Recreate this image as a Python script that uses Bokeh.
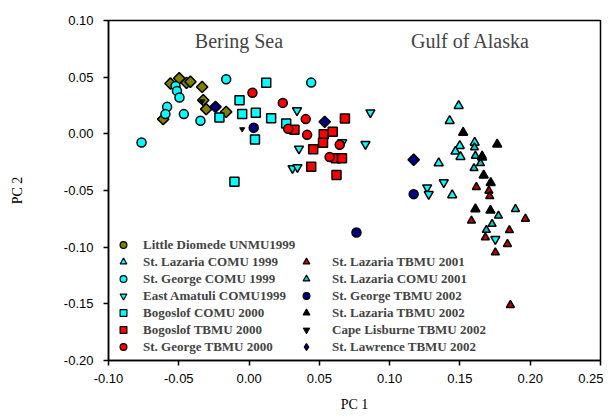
from bokeh.plotting import figure
from bokeh.models import Range1d, FixedTicker, PrintfTickFormatter, Legend, LegendItem, Label
from bokeh.embed import file_html
from bokeh.resources import INLINE

# ---- data (PC1, PC2) ----
ld_unmu99_x = [-0.0611, -0.0559, -0.0497, -0.0445, -0.0417, -0.0334, -0.0326, -0.0305, -0.0163]
ld_unmu99_y = [0.013, 0.0444, 0.049, 0.045, 0.046, 0.0414, 0.0297, 0.0218, 0.0194]

sl_comu99_x = [0.1491, 0.1427, 0.1499, 0.1468, 0.1504, 0.1349, 0.1445, 0.1605]
sl_comu99_y = [0.0247, 0.0115, -0.0106, -0.0156, -0.0203, -0.0258, -0.0541, -0.0077]

sg_comu99_x = [-0.0765, -0.0583, -0.0595, -0.0523, -0.0513, -0.0495, -0.0464, -0.0346, -0.0163, 0.0442]
sg_comu99_y = [-0.0077, 0.0238, 0.0174, 0.0423, 0.0379, 0.032, 0.0174, 0.0115, 0.0482, 0.0452]

ea_comu99_x = [0.0341, 0.0355, 0.0309, 0.0344, 0.0663, 0.0828, 0.0863, 0.1267, 0.1278, 0.1385, 0.1752]
ea_comu99_y = [0.0207, -0.0132, -0.0304, -0.0295, -0.0075, -0.0091, 0.0188, -0.0474, -0.0532, -0.0429, -0.0929]

bo_comu00_x = [-0.0211, -0.0068, -0.0049, 0.0048, 0.0122, 0.0157, 0.0264, 0.0042, -0.0104]
bo_comu00_y = [0.0144, 0.0297, 0.0174, 0.0187, 0.045, 0.0137, 0.0091, -0.0049, -0.0423]

bo_tbmu00_x = [0.0323, 0.0531, 0.0595, 0.0526, 0.0456, 0.0682, 0.0618, 0.0661, 0.0442, 0.0622]
bo_tbmu00_y = [0.0035, -0.0004, 0.0018, -0.0078, -0.0135, 0.0135, -0.0216, -0.0216, -0.0291, -0.0363]

sg_tbmu00_x = [0.0024, 0.024, 0.0403, 0.0278, 0.0413, 0.0645, 0.0573]
sg_tbmu00_y = [0.0362, 0.0273, 0.013, 0.0044, -0.0009, -0.0097, -0.0205]

sl_tbmu01_x = [0.1617, 0.1706, 0.1712, 0.1582, 0.1966, 0.1852, 0.1681, 0.1838, 0.1752, 0.1859]
sl_tbmu01_y = [-0.047, -0.0503, -0.0551, -0.0767, -0.075, -0.0851, -0.0914, -0.0973, -0.1047, -0.1511]

sl_comu01_x = [0.1603, 0.161, 0.1658, 0.1646, 0.16, 0.1774, 0.1895, 0.1729, 0.1688]
sl_comu01_y = [-0.0121, -0.0194, -0.0194, -0.026, -0.0304, -0.0723, -0.0664, -0.0796, -0.0849]

sg_tbmu02_x = [0.0033, 0.1171, 0.0764]
sg_tbmu02_y = [0.0053, -0.0532, -0.087]

sl_tbmu02_x = [0.1523, 0.1765, 0.1658, 0.1669, 0.1719, 0.161, 0.1717]
sl_tbmu02_y = [0.0011, -0.0093, -0.0209, -0.0366, -0.0432, -0.0664, -0.0676]

cl_tbmu02_x = [-0.0049, -0.0334]
cl_tbmu02_y = [0.0041, 0.0287]

sw_tbmu02_x = [-0.0239, 0.0538, 0.1171]
sw_tbmu02_y = [0.0238, 0.0106, -0.0229]

x_ticks = [-0.10, -0.05, 0.00, 0.05, 0.10, 0.15, 0.20, 0.25]
y_ticks = [-0.20, -0.15, -0.10, -0.05, 0.00, 0.05, 0.10]

SERIF = "Liberation Serif"
SANS = "Liberation Sans"
NAN = float("nan")

p = figure(width=603, height=416, output_backend="svg", toolbar_location=None,
           x_range=Range1d(-0.10, 0.25), y_range=Range1d(-0.20, 0.10),
           min_border_left=108, min_border_right=3, min_border_top=20, min_border_bottom=56)
p.xgrid.visible = False
p.ygrid.visible = False
p.outline_line_color = "black"
p.outline_line_width = 1.5
p.background_fill_color = "white"
p.border_fill_color = "white"

for ax in (p.xaxis[0], p.yaxis[0]):
    ax.axis_line_width = 1.5
    ax.axis_line_color = "black"
    ax.major_tick_out = 5
    ax.major_tick_in = 0
    ax.minor_tick_out = 0
    ax.minor_tick_in = 0
    ax.major_tick_line_width = 1.5
    ax.formatter = PrintfTickFormatter(format="%.2f")
    ax.major_label_text_font = SANS
    ax.major_label_text_font_size = "13px"
    ax.major_label_text_color = "black"
    ax.axis_label_text_font = SERIF
    ax.axis_label_text_font_size = "14px"
    ax.axis_label_text_font_style = "normal"
    ax.axis_label_text_color = "black"
p.xaxis.ticker = FixedTicker(ticks=x_ticks)
p.yaxis.ticker = FixedTicker(ticks=y_ticks)
p.xaxis.axis_label = "PC 1"
p.yaxis.axis_label = "PC 2"
p.xaxis.major_label_standoff = 8
p.yaxis.major_label_standoff = 10
p.xaxis.axis_label_standoff = 11
p.yaxis.axis_label_standoff = 36

def sc(x, y, marker, size, color, angle=0.0, lw=1.5):
    return p.scatter(x, y, marker=marker, size=size, fill_color=color,
                     line_color="black", line_width=lw, angle=angle)

# plotted series
sc(ld_unmu99_x, ld_unmu99_y, "square", 8, "#808000", angle=0.785)
sc(sl_comu99_x, sl_comu99_y, "triangle", 9, "#00ffff")
sc(sg_comu99_x, sg_comu99_y, "circle", 9, "#00ffff")
sc(ea_comu99_x, ea_comu99_y, "inverted_triangle", 9, "#00ffff")
sc(bo_comu00_x, bo_comu00_y, "square", 9, "#00ffff")
sc(bo_tbmu00_x, bo_tbmu00_y, "square", 9, "#ff0000")
sc(sg_tbmu00_x, sg_tbmu00_y, "circle", 9, "#ff0000")
sc(sl_tbmu01_x, sl_tbmu01_y, "triangle", 8, "#c00000")
sc(sl_comu01_x, sl_comu01_y, "triangle", 8, "#00c8c8")
sc(sg_tbmu02_x, sg_tbmu02_y, "circle", 9, "#000080")
sc(sl_tbmu02_x, sl_tbmu02_y, "triangle", 9, "#000000")
sc(cl_tbmu02_x, cl_tbmu02_y, "inverted_triangle", 5, "#000000", lw=1)
sc(sw_tbmu02_x, sw_tbmu02_y, "square", 8, "#000080", angle=0.785)

# legend swatches (smaller, like the reference key); NaN so nothing is plotted
def sw(marker, size, color, lw=1.2):
    return p.scatter([NAN], [NAN], marker=marker, size=size, fill_color=color,
                     line_color="black", line_width=lw)

left_items = [
    LegendItem(label="Little Diomede UNMU1999", renderers=[sw("circle", 7, "#808000")]),
    LegendItem(label="St. Lazaria COMU 1999", renderers=[sw("triangle", 7, "#00ffff")]),
    LegendItem(label="St. George COMU 1999", renderers=[sw("circle", 7, "#00ffff")]),
    LegendItem(label="East Amatuli COMU1999", renderers=[sw("inverted_triangle", 7, "#00ffff")]),
    LegendItem(label="Bogoslof COMU 2000", renderers=[sw("square", 7, "#00ffff")]),
    LegendItem(label="Bogoslof TBMU 2000", renderers=[sw("square", 7, "#ff0000")]),
    LegendItem(label="St. George TBMU 2000", renderers=[sw("circle", 7, "#ff0000")]),
]
right_items = [
    LegendItem(label="St. Lazaria TBMU 2001", renderers=[sw("triangle", 7, "#c00000")]),
    LegendItem(label="St. Lazaria COMU 2001", renderers=[sw("triangle", 6, "#00c8c8")]),
    LegendItem(label="St. George TBMU 2002", renderers=[sw("circle", 7, "#000080")]),
    LegendItem(label="St. Lazaria TBMU 2002", renderers=[sw("triangle", 6, "#000000")]),
    LegendItem(label="Cape Lisburne TBMU 2002", renderers=[sw("inverted_triangle", 4, "#000000", 0.8)]),
    LegendItem(label="St. Lawrence TBMU 2002", renderers=[sw("diamond", 8, "#000080")]),
]

def mk_legend(items, loc, standoff):
    lg = Legend(items=items, location=loc)
    lg.background_fill_alpha = 0
    lg.border_line_alpha = 0
    lg.label_text_font = SERIF
    lg.label_text_font_size = "13px"
    lg.label_text_font_style = "bold"
    lg.glyph_width = 20
    lg.glyph_height = 17
    lg.label_height = 17
    lg.spacing = 0
    lg.padding = 0
    lg.margin = 0
    lg.label_standoff = standoff
    return lg

p.add_layout(mk_legend(left_items, (5, 5), 10), "center")
p.add_layout(mk_legend(right_items, (188, 5), 16), "center")

p.add_layout(Label(x=-0.0072, y=0.0815, text="Bering Sea", text_align="center",
                   text_baseline="middle", text_font=SERIF, text_font_size="20px"))
p.add_layout(Label(x=0.1575, y=0.0815, text="Gulf of Alaska", text_align="center",
                   text_baseline="middle", text_font=SERIF, text_font_size="20px"))

open("out.html", "w").write(file_html(p, INLINE))
